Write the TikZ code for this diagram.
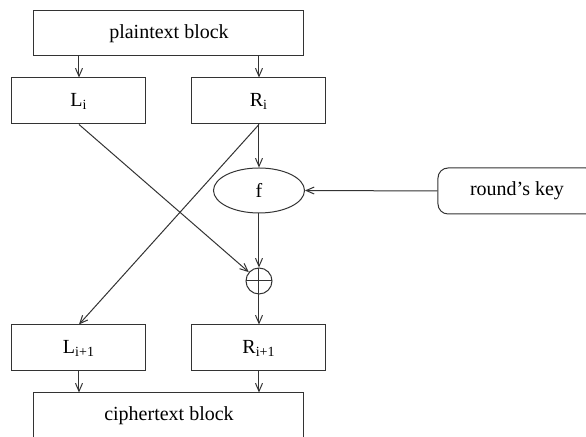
\documentclass[tikz,border=0pt]{standalone}
\usepackage{fontspec}
\setmainfont{Liberation Serif}
\usetikzlibrary{arrows.meta,shapes.geometric}

\begin{document}
\begin{tikzpicture}[x=0.5pt,y=-0.5pt,line width=0.5pt]
          \tikzset{>={Straight Barb[length=4pt,width=3.5pt]}};
          \tikzset{wire/.style={draw=black!80,->}};
          \tikzset{block/.style={draw=black!80,rectangle,inner sep=0pt,
              minimum width=135pt,minimum height=22.5pt}};
          \tikzset{half/.style={draw=black!80,rectangle,inner sep=0pt,
              minimum width=67pt,minimum height=23pt}};
          \useasboundingbox (0,0) rectangle (586,437);
          \clip (0,0) rectangle (586,437);

          % blocks
          \node[block] (plain) at (169,33.5){plaintext block};
          \node[half] (Li) at (79,101){L\textsubscript{i}};
          \node[half] (Ri) at (259,101){R\textsubscript{i}};
          \node[half] (Li1) at (79,348){L\textsubscript{i+1}};
          \node[half] (Ri1) at (259,348){R\textsubscript{i+1}};
          \node[block] (cipher) at (169,415.5){ciphertext block};

          % round function and key
          \node[draw=black!80,ellipse,inner sep=0pt,minimum width=45.5pt,
                minimum height=22.5pt] (f) at (259,190.5){f};
          \node[draw=black!80,rounded corners=5pt,inner sep=0pt,minimum width=79pt,
                minimum height=23pt] (key) at (517,191){round's key};
          \node[draw=black!80,circle,inner sep=0pt,minimum size=13pt,
                path picture={\draw[black!80]
                  (path picture bounding box.north) -- (path picture bounding box.south)
                  (path picture bounding box.west) -- (path picture bounding box.east);}]
                (xor) at (259,281){};

          % edges
          \draw[wire] (plain.south -| Li.north) -- (Li.north);
          \draw[wire] (plain.south -| Ri.north) -- (Ri.north);
          \draw[wire] (Ri.south) -- (f.north);
          \draw[wire] (key.west) -- (f.east);
          \draw[wire] (f.south) -- (xor.north);
          \draw[wire] (Li.south) -- (xor);
          \draw[wire] (Ri.south) -- (Li1.north);
          \draw[wire] (xor.south) -- (Ri1.north);
          \draw[wire] (Li1.south) -- (cipher.north -| Li1.south);
          \draw[wire] (Ri1.south) -- (cipher.north -| Ri1.south);
        \end{tikzpicture}
\end{document}
